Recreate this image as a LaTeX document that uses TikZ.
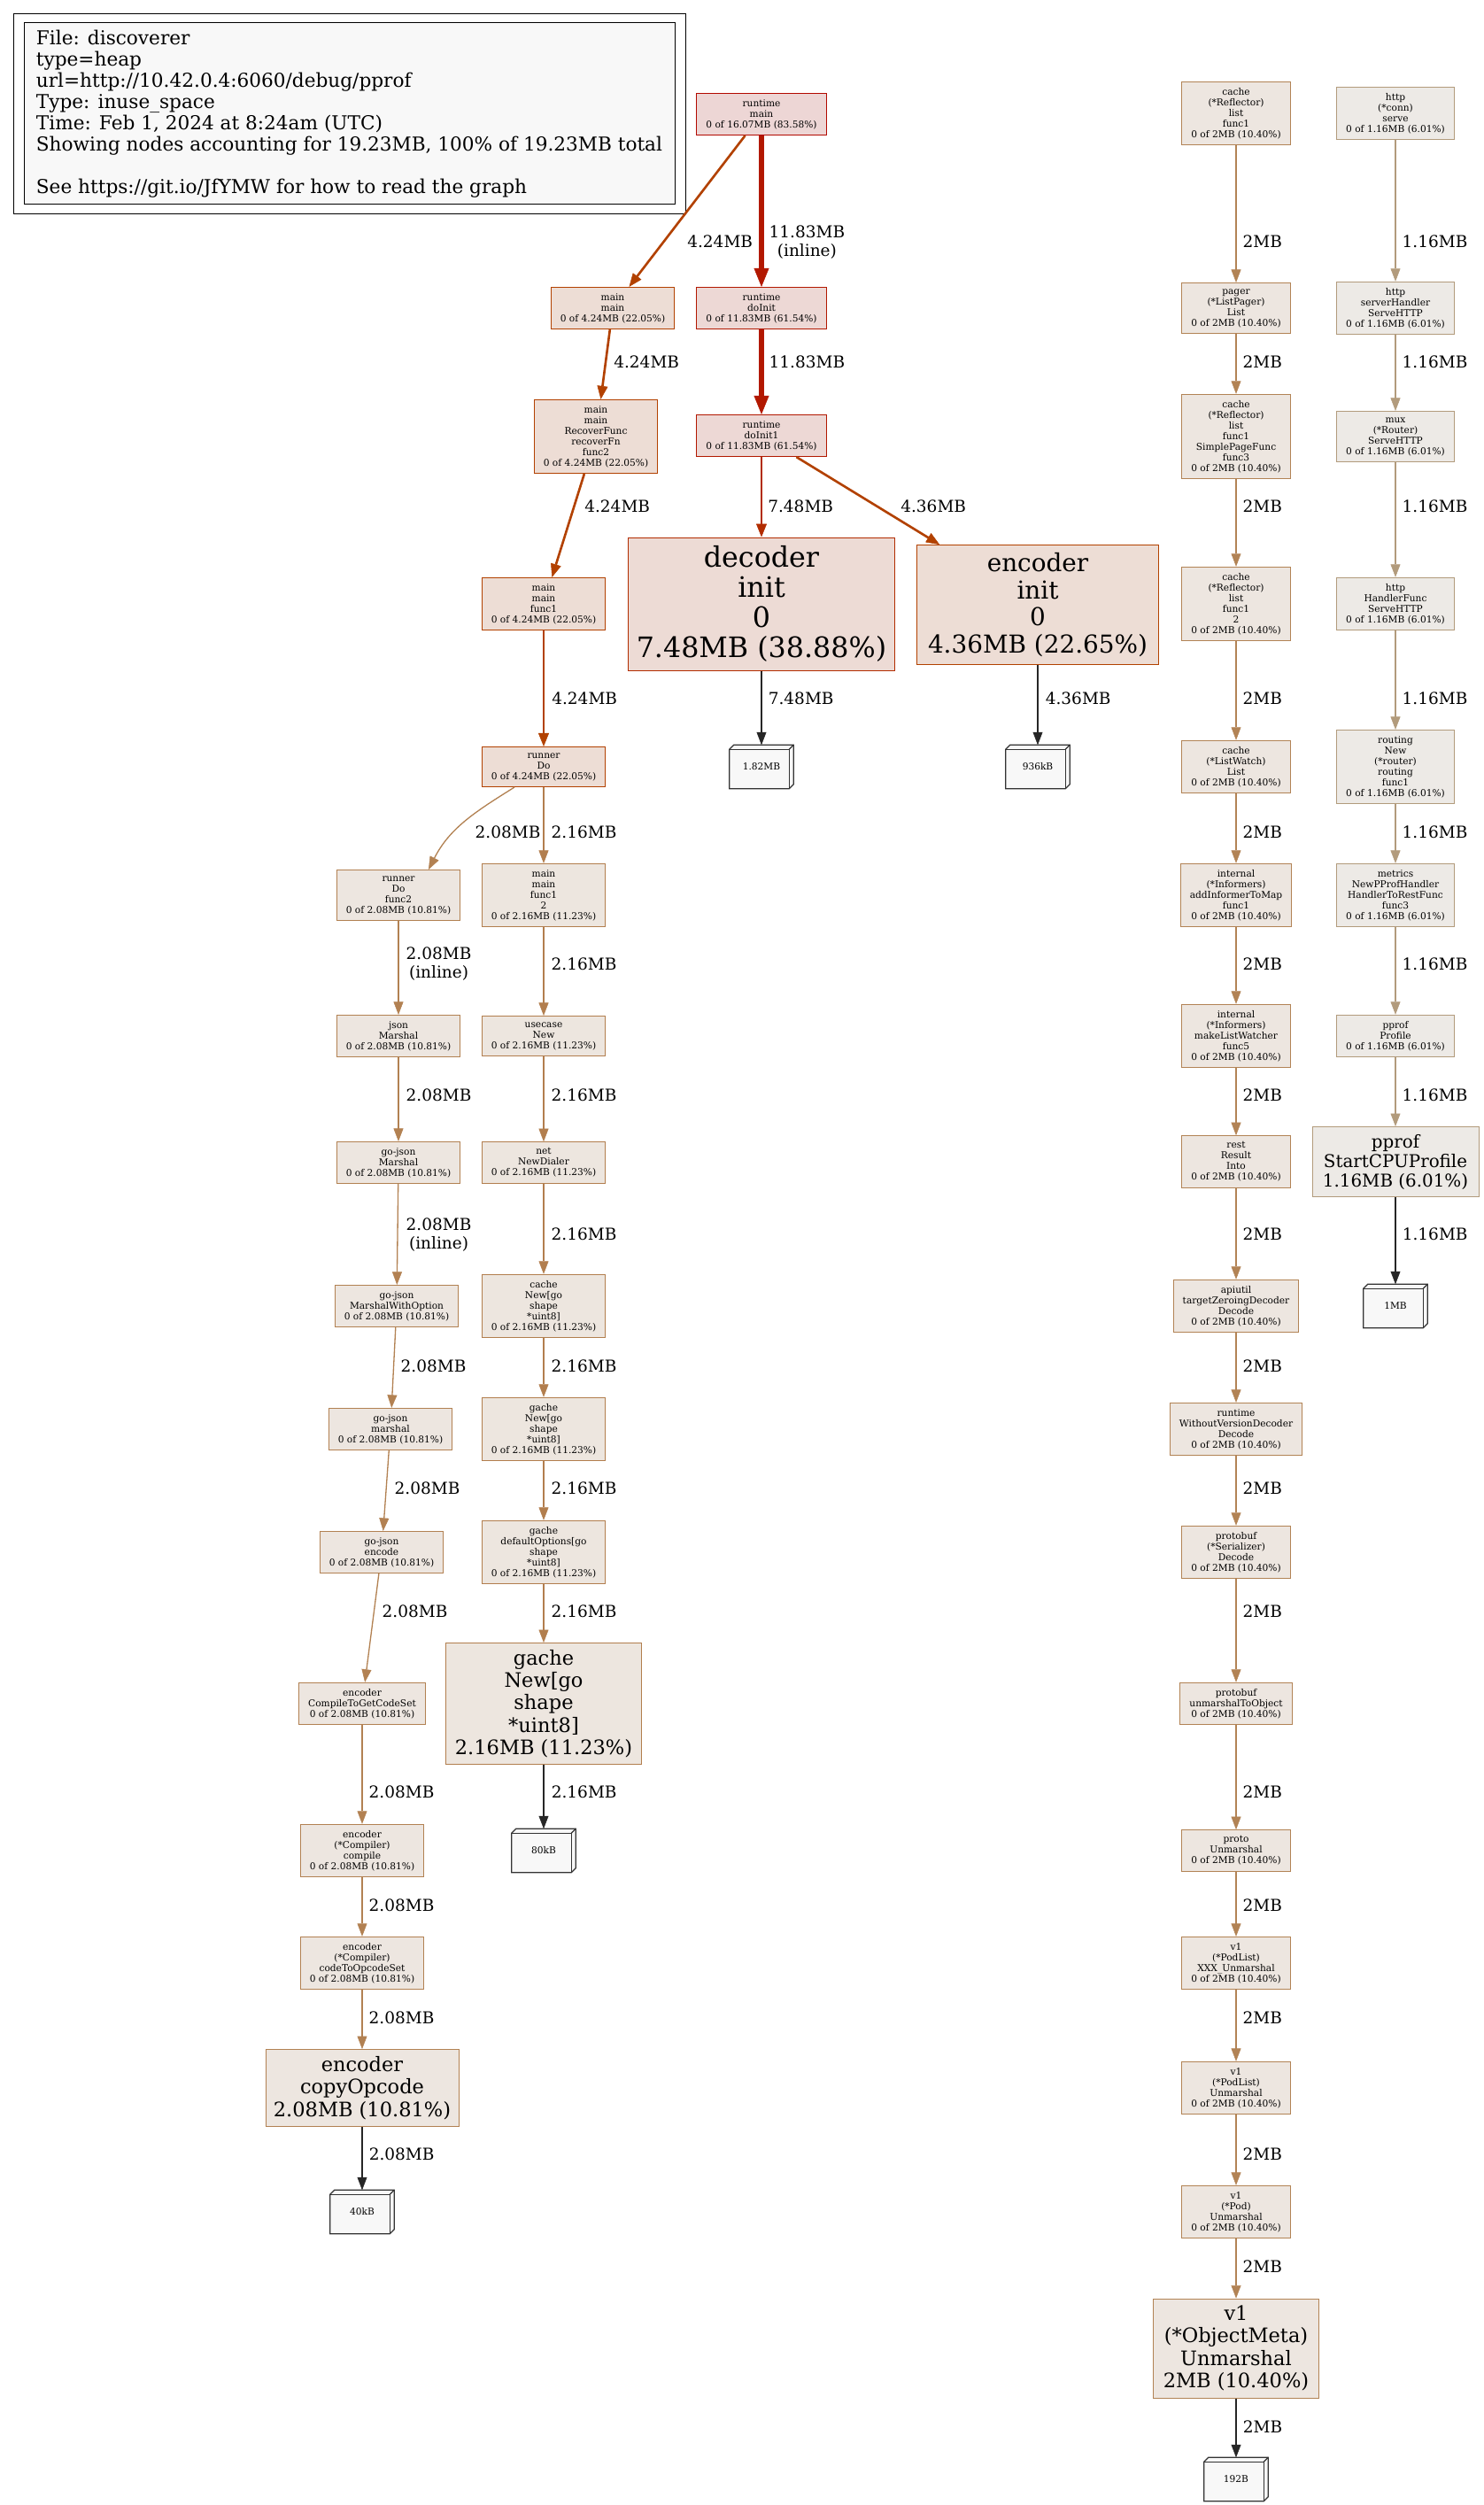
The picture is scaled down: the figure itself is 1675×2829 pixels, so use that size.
\documentclass[tikz,border=0pt]{standalone}
\usepackage{fontspec}
\setmainfont{DejaVu Serif}
\usetikzlibrary{arrows.meta,backgrounds}

\definecolor{col83}{HTML}{B20900}
\definecolor{fill83}{HTML}{EDD6D5}
\definecolor{col61}{HTML}{B21800}
\definecolor{fill61}{HTML}{EDD8D5}
\definecolor{col39}{HTML}{B22C00}
\definecolor{fill39}{HTML}{EDDBD5}
\definecolor{col22}{HTML}{B24100}
\definecolor{fill22}{HTML}{EDDDD5}
\definecolor{col11}{HTML}{B27E4E}
\definecolor{fill11}{HTML}{EDE6DF}
\definecolor{col10}{HTML}{B28152}
\definecolor{fill10}{HTML}{EDE6E0}
\definecolor{col104}{HTML}{B28355}
\definecolor{col6}{HTML}{B29B7C}
\definecolor{fill6}{HTML}{EDEAE6}
\definecolor{boxgray}{HTML}{F8F8F8}

\newcommand*{\xmain}{614}
\newcommand*{\xrt}{860}
\newcommand*{\xenc}{1172}
\newcommand*{\xlist}{1396}
\newcommand*{\xhttp}{1576}

\begin{document}
\begin{tikzpicture}
[
	x=0.8pt, y=0.8pt,
	fn/.style={draw, align=center, line width=0.8pt, inner xsep=8.5pt, inner ysep=5.5pt, font=\fontsize{8.5}{9.6}\selectfont},
	box83/.style={fn, draw=col83, fill=fill83},
	box61/.style={fn, draw=col61, fill=fill61},
	box39/.style={fn, draw=col39, fill=fill39},
	box22/.style={fn, draw=col22, fill=fill22},
	box11/.style={fn, draw=col11, fill=fill11},
	box10/.style={fn, draw=col10, fill=fill10},
	box104/.style={fn, draw=col104, fill=fill10},
	box6/.style={fn, draw=col6, fill=fill6},
	sizebox/.style={minimum width=57.6pt, minimum height=39.2pt, inner sep=0pt, font=\fontsize{8.5}{9.6}\selectfont},
	boxline/.style={draw=black!80, fill=boxgray, line width=1pt, line join=miter},
	legend/.style={draw, line width=0.8pt, fill=boxgray, align=left, minimum width=588pt, minimum height=164pt, font=\fontsize{17.3}{19.2}\selectfont},
	elab/.style={anchor=west, align=center, inner sep=0pt, text=black, font=\fontsize{14.8}{16.8}\selectfont},
	e1/.style={line width=1.05pt, -{Triangle[length=11.6pt, width=8.8pt, line width=0.4pt]}},
	e2/.style={line width=2.1pt, -{Triangle[length=12pt, width=9.6pt, line width=0.4pt]}},
	e4/.style={line width=4.2pt, -{Triangle[length=16.8pt, width=13.6pt, line width=0.4pt]}},
	ek/.style={e1, line width=1.3pt, black!85}
]

	\useasboundingbox (0,0) rectangle (1675,-2829);

	% legend
	\node[legend] (legend) at (394.5,-128.5) {File: discoverer\\type=heap\\url=http://10.42.0.4:6060/debug/pprof\\Type: inuse\_space\\Time: Feb 1, 2024 at 8:24am (UTC)\\Showing nodes accounting for 19.23MB, 100\% of 19.23MB total\\[19.2pt]See https://git.io/JfYMW for how to read the graph};
	\draw[line width=0.8pt] ([shift={(-11,10)}]legend.north west) rectangle ([shift={(12,-10)}]legend.south east);

	% runtime and main
	\node[box83] (rtmain) at (\xrt,-129) {runtime\\main\\0 of 16.07MB (83.58\%)};
	\node[box22] (mainmain) at (692,-348) {main\\main\\0 of 4.24MB (22.05\%)};
	\node[box61] (doinit) at (\xrt,-348) {runtime\\doInit\\0 of 11.83MB (61.54\%)};
	\node[box22] (recover) at (673,-493) {main\\main\\RecoverFunc\\recoverFn\\func2\\0 of 4.24MB (22.05\%)};
	\node[box61] (doinit1) at (\xrt,-492) {runtime\\doInit1\\0 of 11.83MB (61.54\%)};
	\node[box22] (func1) at (\xmain,-682) {main\\main\\func1\\0 of 4.24MB (22.05\%)};
	\node[box39, inner sep=0pt, minimum width=240.8pt, minimum height=120pt, font=\fontsize{25.4}{27.2}\selectfont] (decoder) at (\xrt,-682) {decoder\\init\\0\\7.48MB (38.88\%)};
	\node[box22, inner sep=0pt, minimum width=218.4pt, minimum height=108pt, font=\fontsize{22.3}{24.5}\selectfont] (encinit) at (\xenc,-683) {encoder\\init\\0\\4.36MB (22.65\%)};
	\node[box22] (runner) at (\xmain,-866) {runner\\Do\\0 of 4.24MB (22.05\%)};
	\node[sizebox] (cdec) at (\xrt,-866) {1.82MB};
	\node[sizebox] (cenc) at (\xenc,-866) {936kB};

	% json and gache
	\node[box10] (func2) at (450,-1011) {runner\\Do\\func2\\0 of 2.08MB (10.81\%)};
	\node[box11] (func12) at (\xmain,-1011) {main\\main\\func1\\2\\0 of 2.16MB (11.23\%)};
	\node[box10] (jsonm) at (450,-1170) {json\\Marshal\\0 of 2.08MB (10.81\%)};
	\node[box11] (usecase) at (\xmain,-1170) {usecase\\New\\0 of 2.16MB (11.23\%)};
	\node[box10] (gojm) at (450,-1313) {go-json\\Marshal\\0 of 2.08MB (10.81\%)};
	\node[box11] (netd) at (\xmain,-1313) {net\\NewDialer\\0 of 2.16MB (11.23\%)};
	\node[box10] (mwo) at (448,-1475) {go-json\\MarshalWithOption\\0 of 2.08MB (10.81\%)};
	\node[box11] (cachenew) at (\xmain,-1475) {cache\\New[go\\shape\\{}*uint8]\\0 of 2.16MB (11.23\%)};
	\node[box10] (gojmarsh) at (441,-1614) {go-json\\marshal\\0 of 2.08MB (10.81\%)};
	\node[box11] (gachenew) at (\xmain,-1614) {gache\\New[go\\shape\\{}*uint8]\\0 of 2.16MB (11.23\%)};
	\node[box10] (gojenc) at (431,-1753) {go-json\\encode\\0 of 2.08MB (10.81\%)};
	\node[box11] (defopt) at (\xmain,-1753) {gache\\defaultOptions[go\\shape\\{}*uint8]\\0 of 2.16MB (11.23\%)};
	\node[box10] (getcodeset) at (409,-1924) {encoder\\CompileToGetCodeSet\\0 of 2.08MB (10.81\%)};
	\node[box11, inner sep=0pt, minimum width=176.8pt, minimum height=109.6pt, font=\fontsize{18}{20.3}\selectfont] (gachebig) at (\xmain,-1924) {gache\\New[go\\shape\\{}*uint8]\\2.16MB (11.23\%)};
	\node[box10] (compile) at (409,-2090) {encoder\\(*Compiler)\\compile\\0 of 2.08MB (10.81\%)};
	\node[sizebox] (c80) at (\xmain,-2090) {80kB};
	\node[box10] (opcodeset) at (409,-2217) {encoder\\(*Compiler)\\codeToOpcodeSet\\0 of 2.08MB (10.81\%)};
	\node[box10, inner sep=0pt, minimum width=174.4pt, minimum height=69.6pt, font=\fontsize{18}{20.3}\selectfont] (copyop) at (409,-2358) {encoder\\copyOpcode\\2.08MB (10.81\%)};
	\node[sizebox] (c40) at (409,-2498) {40kB};

	% client-go list
	\node[box104] (refl1) at (\xlist,-128) {cache\\(*Reflector)\\list\\func1\\0 of 2MB (10.40\%)};
	\node[box104] (pager) at (\xlist,-348) {pager\\(*ListPager)\\List\\0 of 2MB (10.40\%)};
	\node[box104] (refl3) at (\xlist,-493) {cache\\(*Reflector)\\list\\func1\\SimplePageFunc\\func3\\0 of 2MB (10.40\%)};
	\node[box104] (refl2) at (\xlist,-682) {cache\\(*Reflector)\\list\\func1\\2\\0 of 2MB (10.40\%)};
	\node[box104] (listwatch) at (\xlist,-866) {cache\\(*ListWatch)\\List\\0 of 2MB (10.40\%)};
	\node[box104] (addinf) at (\xlist,-1011) {internal\\(*Informers)\\addInformerToMap\\func1\\0 of 2MB (10.40\%)};
	\node[box104] (mklw) at (\xlist,-1170) {internal\\(*Informers)\\makeListWatcher\\func5\\0 of 2MB (10.40\%)};
	\node[box104] (rest) at (\xlist,-1312) {rest\\Result\\Into\\0 of 2MB (10.40\%)};
	\node[box104] (apiutil) at (\xlist,-1475) {apiutil\\targetZeroingDecoder\\Decode\\0 of 2MB (10.40\%)};
	\node[box104] (wvd) at (\xlist,-1614) {runtime\\WithoutVersionDecoder\\Decode\\0 of 2MB (10.40\%)};
	\node[box104] (serdec) at (\xlist,-1753) {protobuf\\(*Serializer)\\Decode\\0 of 2MB (10.40\%)};
	\node[box104] (toobject) at (\xlist,-1924) {protobuf\\unmarshalToObject\\0 of 2MB (10.40\%)};
	\node[box104] (proto) at (\xlist,-2090) {proto\\Unmarshal\\0 of 2MB (10.40\%)};
	\node[box104] (xxx) at (\xlist,-2217) {v1\\(*PodList)\\XXX\_Unmarshal\\0 of 2MB (10.40\%)};
	\node[box104] (podlist) at (\xlist,-2358) {v1\\(*PodList)\\Unmarshal\\0 of 2MB (10.40\%)};
	\node[box104] (pod) at (\xlist,-2498) {v1\\(*Pod)\\Unmarshal\\0 of 2MB (10.40\%)};
	\node[box104, inner sep=0pt, minimum width=149.6pt, minimum height=89.6pt, font=\fontsize{18}{20.3}\selectfont] (objmeta) at (\xlist,-2652) {v1\\(*ObjectMeta)\\Unmarshal\\2MB (10.40\%)};
	\node[sizebox] (c192) at (\xlist,-2800) {192B};

	% http and pprof
	\node[box6] (conn) at (\xhttp,-128) {http\\(*conn)\\serve\\0 of 1.16MB (6.01\%)};
	\node[box6] (srvhandler) at (\xhttp,-348) {http\\serverHandler\\ServeHTTP\\0 of 1.16MB (6.01\%)};
	\node[box6] (mux) at (\xhttp,-493) {mux\\(*Router)\\ServeHTTP\\0 of 1.16MB (6.01\%)};
	\node[box6] (handlerfunc) at (\xhttp,-682) {http\\HandlerFunc\\ServeHTTP\\0 of 1.16MB (6.01\%)};
	\node[box6] (routing) at (\xhttp,-866) {routing\\New\\(*router)\\routing\\func1\\0 of 1.16MB (6.01\%)};
	\node[box6] (metrics) at (\xhttp,-1011) {metrics\\NewPProfHandler\\HandlerToRestFunc\\func3\\0 of 1.16MB (6.01\%)};
	\node[box6] (profile) at (\xhttp,-1170) {pprof\\Profile\\0 of 1.16MB (6.01\%)};
	\node[box6, inner sep=0pt, minimum width=150.4pt, minimum height=63.2pt, font=\fontsize{15.9}{17.6}\selectfont] (startcpu) at (\xhttp,-1312) {pprof\\StartCPUProfile\\1.16MB (6.01\%)};
	\node[sizebox] (c1mb) at (\xhttp,-1475) {1MB};

	% call edges
	\draw[e2, col22] (rtmain) -- (mainmain) node[elab] (w1) at (775,-273) {4.24MB};
	\draw[e4, col61] (rtmain) -- (doinit) node[elab] (w2) at (866,-273.5) {11.83MB\\(inline)};
	\draw[e2, col22] (mainmain) -- (recover) node[elab] (w3) at (692,-409) {4.24MB};
	\draw[e4, col61] (doinit) -- (doinit1) node[elab] (w4) at (866,-409) {11.83MB};
	\draw[e2, col22] (recover) -- (func1) node[elab] (w5) at (659,-572) {4.24MB};
	\draw[e2, col39] (doinit1) -- (decoder) node[elab] (w6) at (866,-572) {7.48MB};
	\draw[e2, col22] (doinit1) -- (encinit) node[elab] (w7) at (1016,-572) {4.36MB};
	\draw[e2, col22] (func1) -- (runner) node[elab] (w8) at (622,-789) {4.24MB};
	\draw[e1, col10] ([shift={(-33,0)}]runner.south) to[out=-148, in=63] ([shift={(34,0)}]func2.north) node[elab] (w9) at (536,-940) {2.08MB};
	\draw[e1, col11] (runner) -- (func12) node[elab] (w10) at (622,-940) {2.16MB};
	\draw[e1, col10] (func2) -- (jsonm) node[elab] (w11) at (458,-1089) {2.08MB\\(inline)};
	\draw[e1, col11] (func12) -- (usecase) node[elab] (w12) at (622,-1089) {2.16MB};
	\draw[e1, col10] (jsonm) -- (gojm) node[elab] (w13) at (458,-1237) {2.08MB};
	\draw[e1, col11] (usecase) -- (netd) node[elab] (w14) at (622,-1237) {2.16MB};
	\draw[e1, col10] (gojm) -- (mwo) node[elab] (w15) at (458,-1394.5) {2.08MB\\(inline)};
	\draw[e1, col11] (netd) -- (cachenew) node[elab] (w16) at (622,-1394) {2.16MB};
	\draw[e1, col10] (mwo) -- (gojmarsh) node[elab] (w17) at (452,-1543) {2.08MB};
	\draw[e1, col11] (cachenew) -- (gachenew) node[elab] (w18) at (622,-1543) {2.16MB};
	\draw[e1, col10] (gojmarsh) -- (gojenc) node[elab] (w19) at (445,-1681) {2.08MB};
	\draw[e1, col11] (gachenew) -- (defopt) node[elab] (w20) at (622,-1681) {2.16MB};
	\draw[e1, col10] (gojenc) -- (getcodeset) node[elab] (w21) at (431,-1820) {2.08MB};
	\draw[e1, col11] (defopt) -- (gachebig) node[elab] (w22) at (622,-1820) {2.16MB};
	\draw[e1, col10] (getcodeset) -- (compile) node[elab] (w23) at (416,-2024) {2.08MB};
	\draw[e1, col10] (compile) -- (opcodeset) node[elab] (w24) at (416,-2152) {2.08MB};
	\draw[e1, col10] (opcodeset) -- (copyop) node[elab] (w25) at (416,-2279) {2.08MB};

	\draw[e1, col104] (refl1) -- (pager) node[elab] (v1) at (1403,-273) {2MB};
	\draw[e1, col104] (pager) -- (refl3) node[elab] (v2) at (1403,-409) {2MB};
	\draw[e1, col104] (refl3) -- (refl2) node[elab] (v3) at (1403,-572) {2MB};
	\draw[e1, col104] (refl2) -- (listwatch) node[elab] (v4) at (1403,-789) {2MB};
	\draw[e1, col104] (listwatch) -- (addinf) node[elab] (v5) at (1403,-940) {2MB};
	\draw[e1, col104] (addinf) -- (mklw) node[elab] (v6) at (1403,-1089) {2MB};
	\draw[e1, col104] (mklw) -- (rest) node[elab] (v7) at (1403,-1237) {2MB};
	\draw[e1, col104] (rest) -- (apiutil) node[elab] (v8) at (1403,-1394) {2MB};
	\draw[e1, col104] (apiutil) -- (wvd) node[elab] (v9) at (1403,-1543) {2MB};
	\draw[e1, col104] (wvd) -- (serdec) node[elab] (v10) at (1403,-1681) {2MB};
	\draw[e1, col104] (serdec) -- (toobject) node[elab] (v11) at (1403,-1820) {2MB};
	\draw[e1, col104] (toobject) -- (proto) node[elab] (v12) at (1403,-2024) {2MB};
	\draw[e1, col104] (proto) -- (xxx) node[elab] (v13) at (1403,-2152) {2MB};
	\draw[e1, col104] (xxx) -- (podlist) node[elab] (v14) at (1403,-2279) {2MB};
	\draw[e1, col104] (podlist) -- (pod) node[elab] (v15) at (1403,-2433) {2MB};
	\draw[e1, col104] (pod) -- (objmeta) node[elab] (v16) at (1403,-2560) {2MB};

	\draw[e1, col6] (conn) -- (srvhandler) node[elab] (u1) at (1583,-273) {1.16MB};
	\draw[e1, col6] (srvhandler) -- (mux) node[elab] (u2) at (1583,-409) {1.16MB};
	\draw[e1, col6] (mux) -- (handlerfunc) node[elab] (u3) at (1583,-572) {1.16MB};
	\draw[e1, col6] (handlerfunc) -- (routing) node[elab] (u4) at (1583,-789) {1.16MB};
	\draw[e1, col6] (routing) -- (metrics) node[elab] (u5) at (1583,-940) {1.16MB};
	\draw[e1, col6] (metrics) -- (profile) node[elab] (u6) at (1583,-1089) {1.16MB};
	\draw[e1, col6] (profile) -- (startcpu) node[elab] (u7) at (1583,-1237) {1.16MB};

	% allocation edges
	\draw[ek] (decoder) -- (cdec) node[elab] (k1) at (867,-789) {7.48MB};
	\draw[ek] (encinit) -- (cenc) node[elab] (k2) at (1180,-789) {4.36MB};
	\draw[ek] (gachebig) -- (c80) node[elab] (k3) at (622,-2024) {2.16MB};
	\draw[ek] (copyop) -- (c40) node[elab] (k4) at (416,-2433) {2.08MB};
	\draw[ek] (startcpu) -- (c1mb) node[elab] (k5) at (1583,-1394) {1.16MB};
	\draw[ek] (objmeta) -- (c192) node[elab] (k6) at (1403,-2741) {2MB};

	% memory boxes
	\begin{scope}[on background layer]
		\foreach \c in {cdec,cenc,c80,c40,c1mb,c192}
		{
			\filldraw[boxline] (\c.south west) -- ([shift={(0,-5)}]\c.north west) -- ([shift={(5,0)}]\c.north west) -- (\c.north east) -- ([shift={(0,5)}]\c.south east) -- ([shift={(-5,0)}]\c.south east) -- cycle;
			\draw[boxline, fill=none] ([shift={(0,-5)}]\c.north west) -- ([shift={(-5,-5)}]\c.north east) -- ([shift={(-5,0)}]\c.south east);
			\draw[boxline, fill=none] ([shift={(-5,-5)}]\c.north east) -- (\c.north east);
		}
	\end{scope}

\end{tikzpicture}
\end{document}
